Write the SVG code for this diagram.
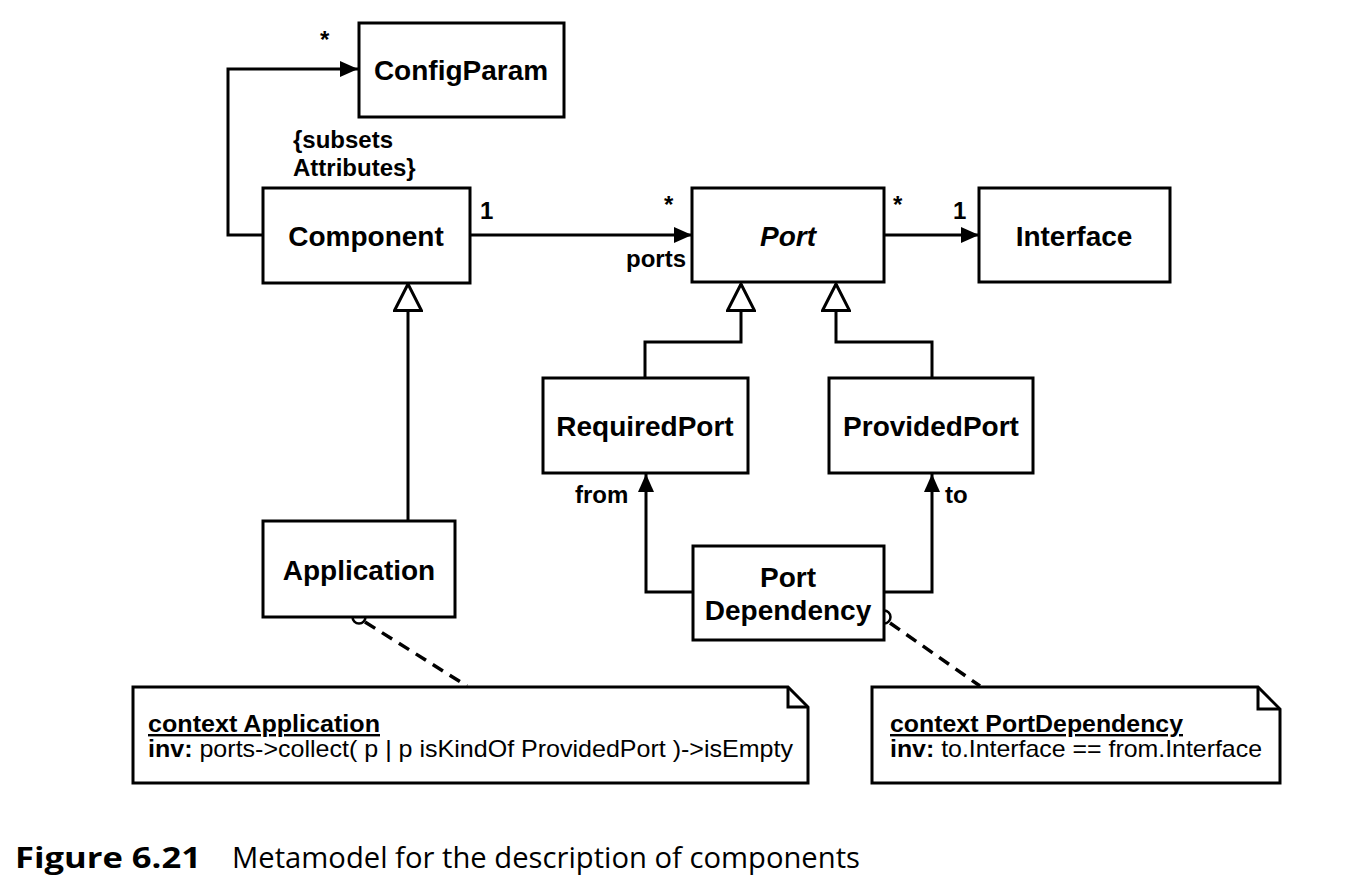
<svg xmlns="http://www.w3.org/2000/svg" width="1364" height="890" viewBox="0 0 1364 890">
<style>
.box{fill:#fff;stroke:#000;stroke-width:3}
.ln{fill:none;stroke:#000;stroke-width:3}
.dash{fill:none;stroke:#000;stroke-width:3.5;stroke-dasharray:12 8}
.lbl{font-family:"Liberation Sans",Arial,sans-serif;font-weight:bold;font-size:28px;text-anchor:middle;fill:#000}
.sm{font-family:"Liberation Sans",Arial,sans-serif;font-weight:bold;font-size:24px;fill:#000}
.nt{font-family:"Liberation Sans",Arial,sans-serif;font-size:24px;fill:#000}
.cap{font-family:"Open Sans","Noto Sans",sans-serif;font-size:29px;fill:#000}
</style>
<defs>
<marker id="arr" viewBox="0 0 18 16" refX="18" refY="8" markerWidth="18" markerHeight="16" markerUnits="userSpaceOnUse" orient="auto">
<path d="M0,0 L18,8 L0,16 Z" fill="#000"/>
</marker>
<marker id="gen" viewBox="0 0 30 30" refX="28" refY="15" markerWidth="30" markerHeight="30" markerUnits="userSpaceOnUse" orient="auto">
<path d="M1.5,1.5 L28,15 L1.5,28.5 Z" fill="#fff" stroke="#000" stroke-width="3"/>
</marker>
</defs>
<rect width="1364" height="890" fill="#fff"/>

<g id="connectors">
<polyline class="ln" points="263,235 228,235 228,69 358,69" marker-end="url(#arr)"/>
<line class="ln" x1="470" y1="235" x2="692" y2="235" marker-end="url(#arr)"/>
<line class="ln" x1="884" y1="235" x2="979" y2="235" marker-end="url(#arr)"/>
<polyline class="ln" points="408,521 408,284" marker-end="url(#gen)"/>
<polyline class="ln" points="645,378 645,342 741,342 741,284" marker-end="url(#gen)"/>
<polyline class="ln" points="932,378 932,342 836,342 836,284" marker-end="url(#gen)"/>
<polyline class="ln" points="693,592 646,592 646,474" marker-end="url(#arr)"/>
<polyline class="ln" points="884,592 932,592 932,474" marker-end="url(#arr)"/>
<line class="dash" x1="365" y1="622" x2="467" y2="686"/>
<line class="dash" x1="890" y1="623" x2="980" y2="686"/>
<circle cx="359" cy="617" r="6.5" fill="#fff" stroke="#000" stroke-width="2.5"/>
<circle cx="884" cy="617" r="6.5" fill="#fff" stroke="#000" stroke-width="2.5"/>
<text class="sm" x="320" y="48">*</text>
<text class="sm" x="293" y="148">{subsets</text>
<text class="sm" x="293" y="176">Attributes}</text>
<text class="sm" x="480" y="219">1</text>
<text class="sm" x="664" y="213">*</text>
<text class="sm" x="626" y="267">ports</text>
<text class="sm" x="893" y="213">*</text>
<text class="sm" x="953" y="219">1</text>
<text class="sm" x="575" y="503">from</text>
<text class="sm" x="945" y="503">to</text>
</g>

<g id="ConfigParam">
<rect class="box" x="359" y="23" width="205" height="94"/>
<text class="lbl" x="461" y="80">ConfigParam</text>
</g>
<g id="Component">
<rect class="box" x="263" y="188" width="207" height="95"/>
<text class="lbl" x="366" y="246">Component</text>
</g>
<g id="Port">
<rect class="box" x="692" y="188" width="192" height="94"/>
<text class="lbl" x="788" y="246" font-style="italic">Port</text>
</g>
<g id="Interface">
<rect class="box" x="979" y="188" width="191" height="94"/>
<text class="lbl" x="1074" y="246">Interface</text>
</g>
<g id="RequiredPort">
<rect class="box" x="543" y="378" width="205" height="95"/>
<text class="lbl" x="645" y="436">RequiredPort</text>
</g>
<g id="ProvidedPort">
<rect class="box" x="829" y="378" width="204" height="95"/>
<text class="lbl" x="931" y="436">ProvidedPort</text>
</g>
<g id="Application">
<rect class="box" x="263" y="521" width="192" height="96"/>
<text class="lbl" x="359" y="580">Application</text>
</g>
<g id="PortDependency">
<rect class="box" x="693" y="546" width="191" height="94"/>
<text class="lbl" x="788" y="587">Port</text>
<text class="lbl" x="788" y="620">Dependency</text>
</g>
<g id="NoteApplication">
<path class="box" d="M133,687 L788,687 L808,707 L808,783 L133,783 Z"/>
<path class="ln" d="M788,687 L788,707 L808,707"/>
<text class="nt" x="148" y="732" font-weight="bold" text-decoration="underline" textLength="232" lengthAdjust="spacingAndGlyphs">context Application</text>
<text class="nt" x="148" y="757" textLength="645" lengthAdjust="spacingAndGlyphs"><tspan font-weight="bold">inv:</tspan> ports-&gt;collect( p | p isKindOf ProvidedPort )-&gt;isEmpty</text>
</g>
<g id="NotePortDependency">
<path class="box" d="M872,687 L1258,687 L1280,709 L1280,783 L872,783 Z"/>
<path class="ln" d="M1258,687 L1258,709 L1280,709"/>
<text class="nt" x="890" y="732" font-weight="bold" text-decoration="underline" textLength="293" lengthAdjust="spacingAndGlyphs">context PortDependency</text>
<text class="nt" x="890" y="757" textLength="372" lengthAdjust="spacingAndGlyphs"><tspan font-weight="bold">inv:</tspan> to.Interface == from.Interface</text>
</g>
<g id="caption">
<text class="cap" x="15" y="868" font-weight="bold" textLength="186" lengthAdjust="spacingAndGlyphs">Figure 6.21</text>
<text class="cap" x="232" y="868" textLength="628" lengthAdjust="spacingAndGlyphs">Metamodel for the description of components</text>
</g>
</svg>
